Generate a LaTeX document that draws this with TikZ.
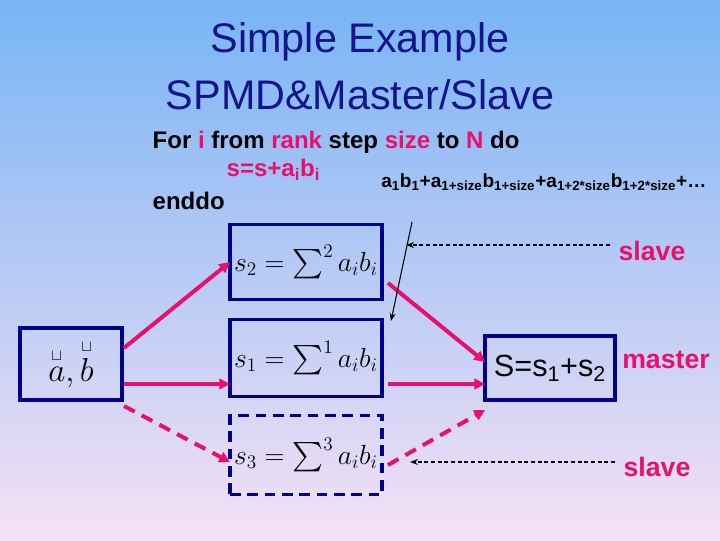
\documentclass[tikz,border=0pt]{standalone}
\usepackage{fontspec}
\usepackage{amsmath,amssymb}
\setmainfont{Liberation Sans}
\usetikzlibrary{arrows.meta}
\definecolor{pk}{HTML}{E8106A}
\definecolor{nv}{HTML}{00008A}
\definecolor{tt}{HTML}{14148C}
\tikzset{
 bx/.style={draw=nv,line width=2.6pt,fill=none},
 pa/.style={draw=pk,line width=3pt,-{Triangle[length=8pt,width=8pt]}},
 pd/.style={pa,dash pattern=on 9pt off 6pt},
 da/.style={draw=black,densely dashed,line width=0.8pt,-{Stealth[length=6pt]}},
 mth/.style={font=\fontsize{22}{24}\selectfont},
 lbl/.style={text=pk,font=\bfseries\fontsize{20}{22}\selectfont},
}
\begin{document}
\begin{tikzpicture}[x=0.75pt,y=-0.75pt]
\shade[top color={rgb,255:red,120;green,180;blue,245}, bottom color={rgb,255:red,245;green,225;blue,245}] (0,0) rectangle (720,540);
\useasboundingbox (0,0) rectangle (720,540);
\node[text=tt,font=\fontsize{31}{34}\selectfont] (t1) at (360,42) {Simple Example};
\node[text=tt,font=\fontsize{31}{34}\selectfont] (t2) at (360,95) {SPMD\&Master/Slave};
\node[anchor=west,font=\bfseries\fontsize{18}{20}\selectfont] (l1) at (148,142) {For \textcolor{pk}{i} from \textcolor{pk}{rank} step \textcolor{pk}{size} to \textcolor{pk}{N} do};
\node[anchor=west,text=pk,font=\bfseries\fontsize{18}{20}\selectfont] (l2) at (222,170) {s=s+a\textsubscript{i}b\textsubscript{i}};
\node[anchor=west,font=\bfseries\fontsize{18}{20}\selectfont] (l3) at (148,201) {enddo};
\node[anchor=west,font=\bfseries\fontsize{14.3}{16}\selectfont,inner sep=0] (frm) at (381,182) {a\textsubscript{1}b\textsubscript{1}+a\textsubscript{1+size}b\textsubscript{1+size}+a\textsubscript{1+2*size}b\textsubscript{1+2*size}+\dots};
\node[bx,minimum width=102*0.75pt,minimum height=72*0.75pt] (ab) at (71,364) {};
\node[font=\fontsize{26}{28}\selectfont] at (ab) {$\overset{\scriptscriptstyle\sqcup}{a},\overset{\scriptscriptstyle\sqcup}{b}$};
\node[bx,minimum width=152*0.75pt,minimum height=75*0.75pt] (s2) at (306,262) {};
\node[mth] at (s2) {$s_2=\sum\nolimits^{2}a_ib_i$};
\node[bx,minimum width=152*0.75pt,minimum height=77*0.75pt] (s1) at (306,358) {};
\node[mth] at (s1) {$s_1=\sum\nolimits^{1}a_ib_i$};
\node[bx,dash pattern=on 8pt off 5pt,minimum width=152*0.75pt,minimum height=79*0.75pt] (s3) at (306,455) {};
\node[mth] at (s3) {$s_3=\sum\nolimits^{3}a_ib_i$};
\node[bx,minimum width=130*0.75pt,minimum height=64*0.75pt] (S) at (550,368) {};
\node[font=\fontsize{23}{25}\selectfont] at (S) {S=s\textsubscript{1}+s\textsubscript{2}};
\node[lbl] (sl1) at (652,251) {slave};
\node[lbl] (ms) at (666,360) {master};
\node[lbl] (sl2) at (657,467) {slave};
\coordinate (a1) at (124,348); \coordinate (a2) at (124,384); \coordinate (a3) at (124,406);
\draw[pa] (a1) -- (230,262);
\draw[pa] (a2) -- (230,384);
\draw[pd] (a3) -- (230,462);
\draw[pa] (388,283) -- (485,362);
\draw[pa] (388,384) -- (485,384);
\draw[pd] (388,465) -- (485,410);
\coordinate (b1) at (412,222); \coordinate (b2) at (391,321);
\draw[black,line width=0.8pt,-{Stealth[length=6pt]}] (b1) -- (b2);
\coordinate (d1) at (610,245); \coordinate (d2) at (406,245);
\draw[da] (d1) -- (d2);
\coordinate (e1) at (615,462); \coordinate (e2) at (410,462);
\draw[da] (e1) -- (e2);
\end{tikzpicture}
\end{document}
